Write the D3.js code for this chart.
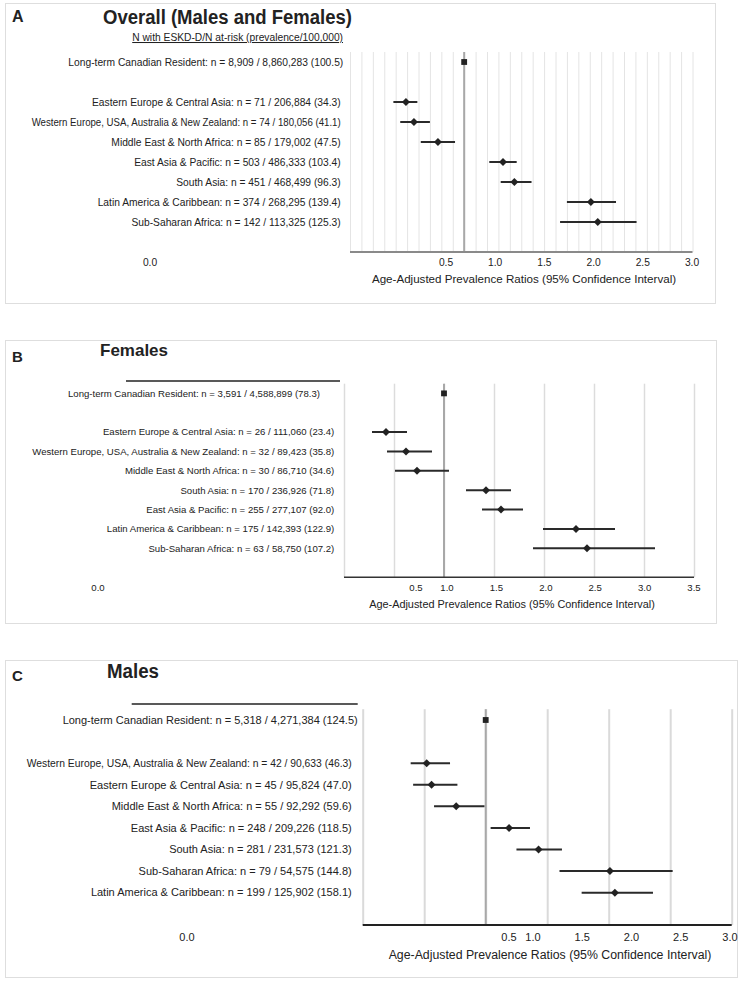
<!DOCTYPE html>
<html><head><meta charset="utf-8">
<script src="https://cdn.jsdelivr.net/npm/d3@7"></script>
<style>
html,body{margin:0;padding:0;background:#fff;}
text{font-family:"Liberation Sans",Arial,Helvetica,sans-serif;fill:#222;}
</style></head>
<body>
<svg id="chart" width="739" height="983"></svg>
<script>
// ---------- DATA ----------
const regionsA = ["Long-term Canadian Resident","Eastern Europe & Central Asia","Western Europe, USA, Australia & New Zealand","Middle East & North Africa","East Asia & Pacific","South Asia","Latin America & Caribbean","Sub-Saharan Africa"];
const casesA = [8909,71,74,85,503,451,374,142];
const atRiskA = [8860283,206884,180056,179002,486333,468499,268295,113325];
const prevA = [100.5,34.3,41.1,47.5,103.4,96.3,139.4,125.3];
const prA = [1.0,0.49,0.56,0.77,1.34,1.44,2.11,2.17];
const lowA = [null,0.38,0.44,0.62,1.22,1.32,1.90,1.84];
const highA = [null,0.59,0.70,0.92,1.46,1.59,2.33,2.51];

const regionsB = ["Long-term Canadian Resident","Eastern Europe & Central Asia","Western Europe, USA, Australia & New Zealand","Middle East & North Africa","South Asia","East Asia & Pacific","Latin America & Caribbean","Sub-Saharan Africa"];
const casesB = [3591,26,32,30,170,255,175,63];
const atRiskB = [4588899,111060,89423,86710,236926,277107,142393,58750];
const prevB = [78.3,23.4,35.8,34.6,71.8,92.0,122.9,107.2];
const prB = [1.0,0.42,0.62,0.73,1.42,1.57,2.32,2.43];
const lowB = [null,0.28,0.43,0.51,1.22,1.38,1.99,1.89];
const highB = [null,0.63,0.88,1.05,1.67,1.79,2.71,3.11];

const regionsC = ["Long-term Canadian Resident","Western Europe, USA, Australia & New Zealand","Eastern Europe & Central Asia","Middle East & North Africa","East Asia & Pacific","South Asia","Sub-Saharan Africa","Latin America & Caribbean"];
const casesC = [5318,42,45,55,248,281,79,199];
const atRiskC = [4271384,90633,95824,92292,209226,231573,54575,125902];
const prevC = [124.5,46.3,47.0,59.6,118.5,121.3,144.8,158.1];
const prC = [1.0,0.52,0.56,0.76,1.19,1.43,2.01,2.05];
const lowC = [null,0.39,0.41,0.58,1.04,1.25,1.60,1.78];
const highC = [null,0.71,0.77,0.99,1.36,1.62,2.52,2.36];

const ticksA = [0.5,1.0,1.5,2.0,2.5,3.0];
const ticksB = [0.5,1.0,1.5,2.0,2.5,3.0,3.5];
const ticksC = [0.5,1.0,1.5,2.0,2.5,3.0];
const zeroLabel = "0.0";
const axisTitle = "Age-Adjusted Prevalence Ratios (95% Confidence Interval)";
const headerText = "N with ESKD-D/N at-risk (prevalence/100,000)";

// ---------- LAYOUT ----------
const panels = [
 {letter:"A", title:"Overall (Males and Females)", regions:regionsA, cases:casesA, atRisk:atRiskA, prev:prevA, pr:prA, low:lowA, high:highA, ticks:ticksA,
  box:[5,3,710,300], letterY:22, letterSize:16, titleX:103, titleY:24, titleSize:20, titleLen:249,
  header:"text", headerY:41, headerX:343,
  x0:350, x1:692.5, xmax:3.0, gridStep:0.1, gridW:1, gridC:"#e4e4e4",
  top:52, bottom:252, labelX:340.7, refLabelX:343.3, fs:10.25, fit:{2:309},
  axisC:"#8a8a8a", axisW:2,
  tlDomain:[0.5,3.0], tlRange:[446,692], tlFirst:null, tickY:266, zeroX:150,
  titleCX:524, axTitleY:283, axFs:11.6},
 {letter:"B", title:"Females", regions:regionsB, cases:casesB, atRisk:atRiskB, prev:prevB, pr:prB, low:lowB, high:highB, ticks:ticksB,
  box:[5,340,711,283], letterY:362, letterSize:15, titleX:100, titleY:356, titleSize:17, titleLen:68,
  header:"line", headerY:381, headerX0:126, headerX1:340,
  x0:344, x1:694, xmax:3.5, gridStep:0.5, gridW:1.5, gridC:"#dcdcdc",
  top:383.7, bottom:577.3, labelX:334.3, refLabelX:320, fs:9.6, fit:{},
  axisC:"#333", axisW:1.5,
  tlDomain:[1.0,3.5], tlRange:[447,694], tlFirst:416, tickY:590.5, zeroX:98,
  titleCX:512, axTitleY:608, axFs:10.9},
 {letter:"C", title:"Males", regions:regionsC, cases:casesC, atRisk:atRiskC, prev:prevC, pr:prC, low:lowC, high:highC, ticks:ticksC,
  box:[5,660,732,317], letterY:681, letterSize:15, titleX:107, titleY:678, titleSize:19.5, titleLen:52,
  header:"line", headerY:704, headerX0:131.7, headerX1:357.7,
  x0:362.7, x1:731.7, xmax:3.0, gridStep:0.5, gridW:2, gridC:"#dadada",
  top:709.2, bottom:925, labelX:351.7, refLabelX:357.7, fs:11, fit:{1:325, 2:262},
  axisC:"#222", axisW:2,
  tlDomain:[1.0,3.0], tlRange:[533,730], tlFirst:509, tickY:941, zeroX:187,
  titleCX:550, axTitleY:959, axFs:12.3}
];

const svg = d3.select("#chart");
const fmtN = d3.format(",");
const fmtP = d3.format(".1f");

panels.forEach(p => {
  const g = svg.append("g");
  g.append("rect").attr("x",p.box[0]+0.5).attr("y",p.box[1]+0.5).attr("width",p.box[2]).attr("height",p.box[3])
    .attr("fill","none").attr("stroke","#dedede").attr("stroke-width",1);
  g.append("text").attr("x",12).attr("y",p.letterY).attr("font-size",p.letterSize).attr("font-weight","bold").text(p.letter);
  g.append("text").attr("x",p.titleX).attr("y",p.titleY).attr("font-size",p.titleSize).attr("font-weight","bold")
    .attr("textLength",p.titleLen).attr("lengthAdjust","spacingAndGlyphs").text(p.title);

  if (p.header === "text") {
    g.append("text").attr("x",p.headerX).attr("y",p.headerY).attr("text-anchor","end")
      .attr("font-size",p.fs).attr("text-decoration","underline").text(headerText);
  } else {
    g.append("line").attr("x1",p.headerX0).attr("x2",p.headerX1).attr("y1",p.headerY).attr("y2",p.headerY)
      .attr("stroke","#222").attr("stroke-width",1.5);
  }

  const x = d3.scaleLinear().domain([0,p.xmax]).range([p.x0,p.x1]);
  const rows = d3.range(10);
  const y = d3.scaleBand().domain(rows).range([p.top,p.bottom]).padding(0);
  const rowOf = i => i === 0 ? 0 : i + 1;
  const yc = i => y(rowOf(i)) + y.bandwidth()/2;

  const gridVals = d3.range(0, p.xmax + 1e-6, p.gridStep).map(v => +v.toFixed(2));
  const grid = g.append("g").attr("transform",`translate(0,${p.bottom})`)
    .call(d3.axisBottom(x).tickValues(gridVals).tickSize(-(p.bottom-p.top)).tickFormat(""));
  grid.select(".domain").remove();
  grid.selectAll(".tick line").attr("stroke",p.gridC).attr("stroke-width",p.gridW);

  g.append("line").attr("x1",x(1)).attr("x2",x(1)).attr("y1",p.top).attr("y2",p.bottom)
    .attr("stroke","#a8a8a8").attr("stroke-width",2);

  g.append("line").attr("x1",p.x0).attr("x2",p.x1).attr("y1",p.bottom).attr("y2",p.bottom)
    .attr("stroke",p.axisC).attr("stroke-width",p.axisW);

  const tl = d3.scaleLinear().domain(p.tlDomain).range(p.tlRange);
  g.selectAll("text.tick").data(p.ticks).join("text").attr("class","tick")
    .attr("x",(d,i) => (i === 0 && p.tlFirst !== null) ? p.tlFirst : tl(d))
    .attr("y",p.tickY).attr("text-anchor","middle").attr("font-size",p.fs).attr("fill","#333")
    .text(d => d3.format(".1f")(d));
  g.append("text").attr("x",p.zeroX).attr("y",p.tickY).attr("text-anchor","middle").attr("font-size",p.fs).attr("fill","#333").text(zeroLabel);
  g.append("text").attr("x",p.titleCX).attr("y",p.axTitleY).attr("text-anchor","middle").attr("font-size",p.axFs).text(axisTitle);

  p.regions.forEach((r,i) => {
    const t = g.append("text").attr("x", i === 0 ? p.refLabelX : p.labelX).attr("y", yc(i)).attr("dy","0.35em")
      .attr("text-anchor","end").attr("font-size",p.fs)
      .text(`${r}: n = ${fmtN(p.cases[i])} / ${fmtN(p.atRisk[i])} (${fmtP(p.prev[i])})`);
    if (p.fit[i]) t.attr("textLength",p.fit[i]).attr("lengthAdjust","spacingAndGlyphs");
  });

  p.regions.forEach((r,i) => {
    if (p.low[i] !== null) {
      g.append("line").attr("x1",x(p.low[i])).attr("x2",x(p.high[i])).attr("y1",yc(i)).attr("y2",yc(i))
        .attr("stroke","#2a2a2a").attr("stroke-width",2);
    }
  });
  p.regions.forEach((r,i) => {
    if (i === 0) {
      g.append("path").attr("d", d3.symbol().type(d3.symbolSquare).size(34)())
        .attr("transform",`translate(${x(p.pr[i])},${yc(i)})`).attr("fill","#222");
    } else {
      g.append("path").attr("d", d3.symbol().type(d3.symbolSquare).size(32)())
        .attr("transform",`translate(${x(p.pr[i])},${yc(i)}) rotate(45)`).attr("fill","#222");
    }
  });
});
</script>
</body></html>
